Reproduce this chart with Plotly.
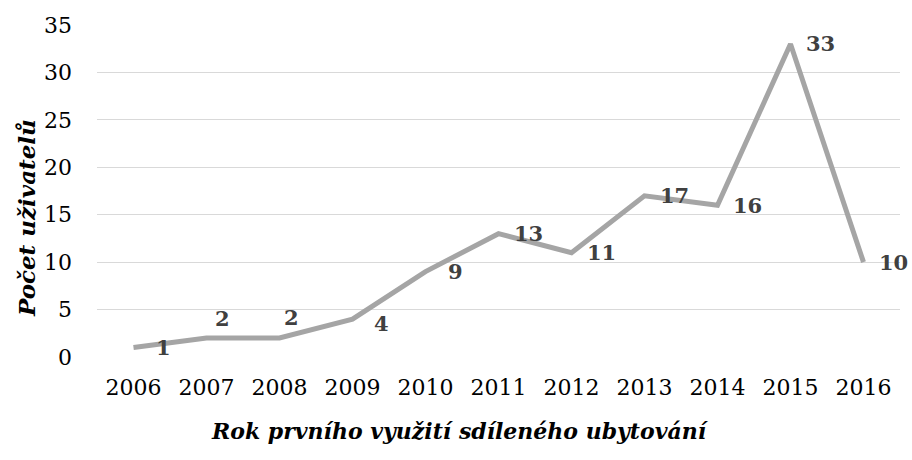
import plotly.graph_objects as go

years = [2006, 2007, 2008, 2009, 2010, 2011, 2012, 2013, 2014, 2015, 2016]
users = [1, 2, 2, 4, 9, 13, 11, 17, 16, 33, 10]
y_ticks = [0, 5, 10, 15, 20, 25, 30, 35]
x_title = "Rok prvního využití sdíleného ubytování"
y_title = "Počet uživatelů"

# label offsets (pixels) - label placement per point
label_dx = [30, 16, 12, 29, 30, 30, 30, 30, 30, 30, 30]
label_dy = [0, 20, 21, -4, 0, 0, 0, 0, 0, 0, 0]

fig = go.Figure()
fig.add_trace(go.Scatter(
    x=years, y=users, mode="lines",
    line=dict(color="#A5A5A5", width=5),
    hoverinfo="skip", showlegend=False,
))

for x, y, dx, dy in zip(years, users, label_dx, label_dy):
    fig.add_annotation(
        x=x, y=y, text=f"<b>{y}</b>", showarrow=False,
        xshift=dx, yshift=dy,
        font=dict(family="DejaVu Serif", size=21, color="#404040"),
    )

# axis titles
fig.add_annotation(
    xref="paper", yref="paper", x=0.452, y=-0.223,
    xanchor="center", yanchor="middle", showarrow=False,
    text=f"<b><i>{x_title}</i></b>",
    font=dict(family="DejaVu Serif", size=22, color="#000000"),
)
fig.add_annotation(
    xref="paper", yref="paper", x=-0.087, y=0.419,
    xanchor="center", yanchor="middle", showarrow=False, textangle=-90,
    text=f"<b><i>{y_title}</i></b>",
    font=dict(family="DejaVu Serif", size=23, color="#000000"),
)

fig.update_layout(
    width=912, height=460,
    margin=dict(l=97, r=12, t=25, b=103),
    paper_bgcolor="white", plot_bgcolor="white",
    xaxis=dict(
        range=[2005.5, 2016.5], tickvals=years, ticktext=[str(v) for v in years],
        showgrid=False, zeroline=False, showline=False,
        tickfont=dict(family="DejaVu Serif", size=22, color="#000000"),
        ticks="", ticklabelstandoff=15,
    ),
    yaxis=dict(
        range=[0, 35], tickvals=y_ticks,
        showgrid=True, gridcolor="#D9D9D9", gridwidth=1.3,
        zeroline=False, showline=False,
        tickfont=dict(family="DejaVu Serif", size=22, color="#000000"),
        ticks="", ticklabelstandoff=24,
    ),
)

fig.write_html("out.html", config={"displayModeBar": False},
               post_script="document.body.style.margin='0';")
